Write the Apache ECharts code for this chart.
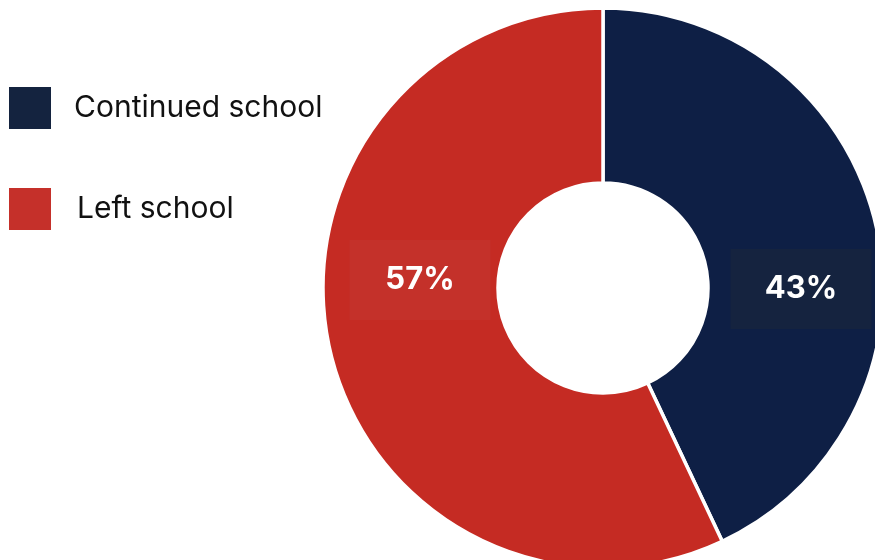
<!DOCTYPE html>
<html><head><meta charset="utf-8">
<script src="https://cdn.jsdelivr.net/npm/echarts@6/dist/echarts.min.js"></script>
<style>html,body{margin:0;padding:0;background:#fff}#c{width:875px;height:560px}</style>
</head><body><div id="c"></div>
<script>
const categories = ["Continued school", "Left school"];
const values = [43, 57];
const colors = ["#0E1F45", "#C52B23"];
const legendColors = ["#14233F", "#C5302A"];
const labelBg = ["#15233F", "#C4312A"];

const chart = echarts.init(document.getElementById('c'));
const cx = 603, cy = 288;
chart.setOption({
  animation: false,
  legend: {
    orient: 'vertical', left: 9, top: 87, padding: 0,
    itemWidth: 42, itemHeight: 42, itemGap: 59,
    icon: 'rect',
    itemStyle: { borderWidth: 0 },
    textStyle: { fontFamily: 'Inter', fontSize: 30, color: '#111' },
    data: [
      { name: categories[0], itemStyle: { color: legendColors[0], borderWidth: 0 }, textStyle: { padding: [0, 0, 8, 18] } },
      { name: categories[1], itemStyle: { color: legendColors[1], borderWidth: 0 }, textStyle: { padding: [0, 0, 0, 21] } }
    ]
  },
  series: [{
    type: 'pie',
    center: [cx, cy],
    radius: [105, 280],
    startAngle: 90,
    clockwise: true,
    avoidLabelOverlap: false,
    itemStyle: { borderColor: '#fff', borderWidth: 3.5 },
    label: {
      show: true, position: 'inside',
      formatter: p => p.value + '%',
      fontFamily: 'Inter', fontWeight: 'bold', fontSize: 31, color: '#fff',
      width: 141, height: 80, lineHeight: 80, align: 'center'
    },
    labelLine: { show: false },
    labelLayout: function (params) {
      return params.dataIndex === 0 ? { x: cx + 198, y: cy + 1 } : { x: cx - 183, y: cy - 8 };
    },
    data: categories.map((c, i) => ({
      name: c, value: values[i],
      itemStyle: { color: colors[i] },
      label: { backgroundColor: labelBg[i] }
    }))
  }]
});
</script></body></html>
